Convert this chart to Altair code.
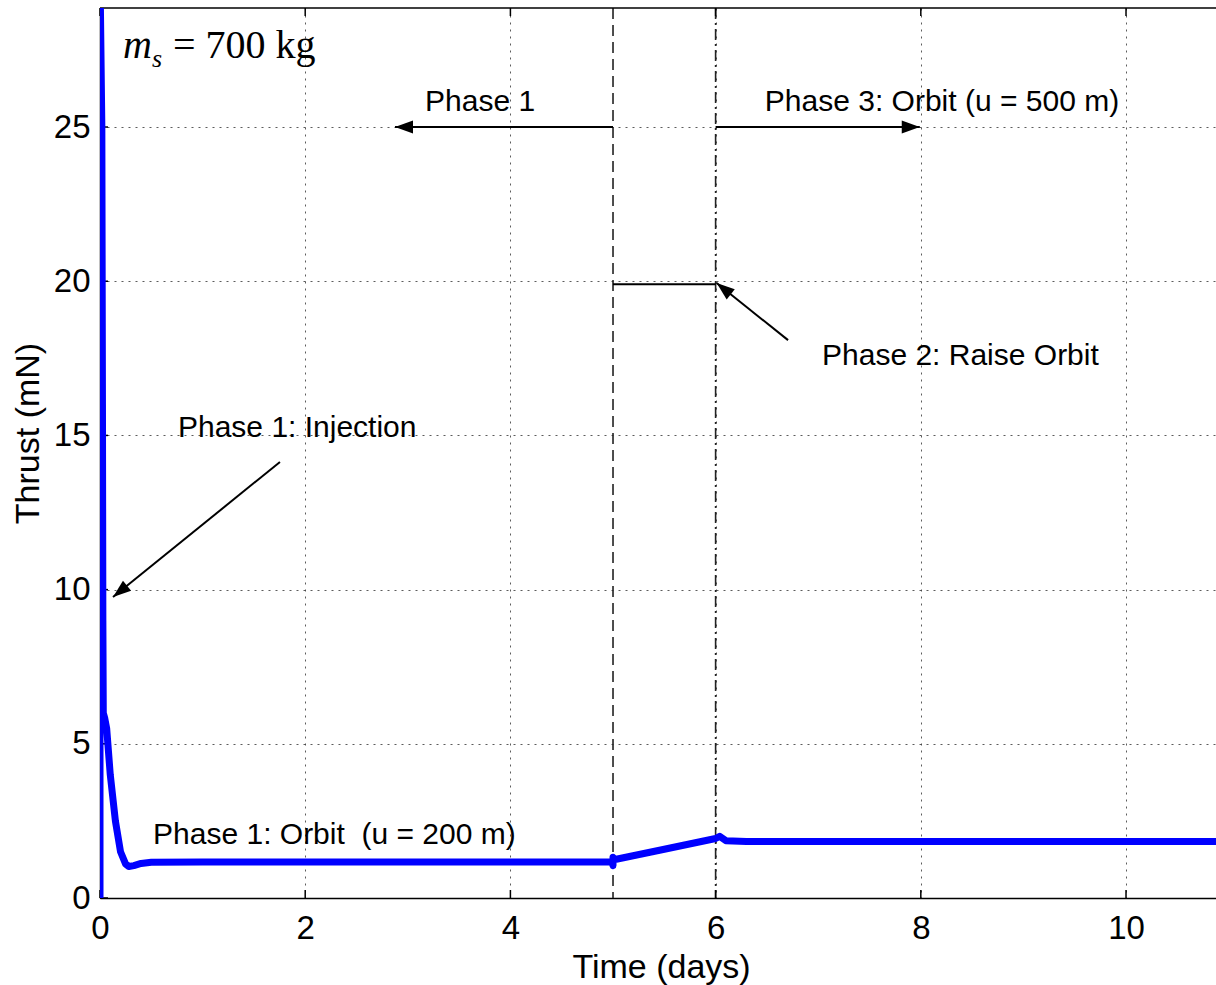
import math
import altair as alt
import pandas as pd

# ---------------- data ----------------
curve_x = [0.0, 0.0, 0.018, 0.024, 0.028, 0.032, 0.045, 0.065, 0.10, 0.15, 0.20, 0.25, 0.28,
           0.33, 0.40, 0.50, 1.0, 2.0, 3.0, 4.0, 4.99, 5.0, 5.0, 5.02, 5.5, 6.0, 6.04,
           6.10, 6.3, 7.0, 8.0, 9.0, 10.0, 10.88]
curve_y = [0.0, 30.0, 25.0, 16.0, 9.0, 6.0, 5.85, 5.5, 4.0, 2.5, 1.5, 1.1, 1.02,
           1.05, 1.12, 1.16, 1.17, 1.17, 1.17, 1.17, 1.17, 1.05, 1.32, 1.25, 1.58, 1.93, 2.0,
           1.86, 1.83, 1.83, 1.83, 1.83, 1.83, 1.83]

x_ticks = [0, 2, 4, 6, 8, 10]
y_ticks = [0, 5, 10, 15, 20, 25]
X_MAX = 10.877
Y_MAX = 28.86

phase_lines_x = [5, 6]
phase_lines_style = ["dash", "dashdot"]

# arrows: tail -> tip (data coordinates)
arrow_x1 = [5.0, 6.0, 1.754, 6.706]
arrow_y1 = [25.0, 25.0, 14.14, 18.09]
arrow_x2 = [2.875, 7.99, 0.127, 6.01]
arrow_y2 = [25.0, 25.0, 9.76, 19.94]

seg_x1 = [5.0]
seg_x2 = [6.0]
seg_y = [19.9]

ann_text = ["Phase 1", "Phase 3: Orbit (u = 500 m)", "Phase 2: Raise Orbit",
            "Phase 1: Injection", "Phase 1: Orbit\u00a0\u00a0(u = 200 m)"]
ann_x = [3.168, 6.48, 7.037, 0.760, 0.517]
ann_y = [25.52, 25.52, 17.28, 14.95, 1.75]

# ---------------- layout ----------------
W, H = 1116, 890
PX_X = W / X_MAX
PX_Y = H / Y_MAX

xs = alt.Scale(domain=[0, X_MAX], nice=False, zero=False)
ys = alt.Scale(domain=[0, Y_MAX], nice=False, zero=False)

curve_df = pd.DataFrame({"t": curve_x, "thrust": curve_y, "order": list(range(len(curve_x)))})

base_x_axis = alt.Axis(values=x_ticks, title="Time (days)", grid=True, ticks=False,
                       labelFlush=False, labelPadding=14, titleX=561, titleY=79,
                       titleBaseline="alphabetic", titleAlign="center", format="d")
base_y_axis = alt.Axis(values=y_ticks, title="Thrust (mN)", grid=True, ticks=False,
                       labelFlush=False, labelPadding=10, titleX=-55, titleY=425,
                       titleAlign="center", titleBaseline="bottom", titleAngle=270, format="d")

curve = alt.Chart(curve_df).mark_line(color="#0000FF", strokeWidth=7, clip=True,
                                      strokeJoin="round", strokeCap="round").encode(
    x=alt.X("t:Q", scale=xs, axis=base_x_axis),
    y=alt.Y("thrust:Q", scale=ys, axis=base_y_axis),
    order="order:Q",
)

vl_df = pd.DataFrame({"x": phase_lines_x, "style": phase_lines_style})
vline_dash = alt.Chart(vl_df[vl_df["style"] == "dash"]).mark_rule(
    color="#222", strokeWidth=1.6, strokeDash=[11, 6]).encode(x=alt.X("x:Q", scale=xs))
vline_dd = alt.Chart(vl_df[vl_df["style"] == "dashdot"]).mark_rule(
    color="#222", strokeWidth=1.6, strokeDash=[11, 4, 2, 4]).encode(x=alt.X("x:Q", scale=xs))

arr_df = pd.DataFrame({"x1": arrow_x1, "y1": arrow_y1, "x2": arrow_x2, "y2": arrow_y2})
# arrowhead rotation from the screen direction of each arrow
angles = []
for a, b, c, d in zip(arrow_x1, arrow_y1, arrow_x2, arrow_y2):
    dx = (c - a) * PX_X
    dy = -(d - b) * PX_Y
    th = math.degrees(math.atan2(dy, dx))
    angles.append((th - 180) % 360)
arr_df["angle"] = angles

arrow_lines = alt.Chart(arr_df).mark_rule(color="black", strokeWidth=2).encode(
    x=alt.X("x1:Q", scale=xs), y=alt.Y("y1:Q", scale=ys),
    x2="x2:Q", y2="y2:Q")
arrow_heads = alt.Chart(arr_df).mark_point(
    shape="M0,0 L1,-0.36 L1,0.36 Z", filled=True, color="black", opacity=1, size=1300,
    strokeWidth=0).encode(
    x=alt.X("x2:Q", scale=xs), y=alt.Y("y2:Q", scale=ys),
    angle=alt.Angle("angle:Q", scale=None))

seg_df = pd.DataFrame({"x1": seg_x1, "x2": seg_x2, "y": seg_y})
seg = alt.Chart(seg_df).mark_rule(color="black", strokeWidth=2).encode(
    x=alt.X("x1:Q", scale=xs), x2="x2:Q", y=alt.Y("y:Q", scale=ys))

ann_df = pd.DataFrame({"text": ann_text, "x": ann_x, "y": ann_y})
ann = alt.Chart(ann_df).mark_text(font="Liberation Sans", fontSize=30, align="left",
                                  baseline="alphabetic", color="black").encode(
    x=alt.X("x:Q", scale=xs), y=alt.Y("y:Q", scale=ys), text="text:N")

ms_df = pd.DataFrame({"text": ["m", "s", "= 700 kg"], "x": [0.224, 0.507, 0.711],
                      "y": [27.24, 26.95, 27.24], "style": ["it", "sub", "rm"]})
ms_m = alt.Chart(ms_df[ms_df["style"] == "it"]).mark_text(
    font="Liberation Serif", fontSize=40, fontStyle="italic", align="left",
    baseline="alphabetic", color="black").encode(
    x=alt.X("x:Q", scale=xs), y=alt.Y("y:Q", scale=ys), text="text:N")
ms_s = alt.Chart(ms_df[ms_df["style"] == "sub"]).mark_text(
    font="Liberation Serif", fontSize=26, fontStyle="italic", align="left",
    baseline="alphabetic", color="black").encode(
    x=alt.X("x:Q", scale=xs), y=alt.Y("y:Q", scale=ys), text="text:N")
ms_r = alt.Chart(ms_df[ms_df["style"] == "rm"]).mark_text(
    font="Liberation Serif", fontSize=40, align="left",
    baseline="alphabetic", color="black").encode(
    x=alt.X("x:Q", scale=xs), y=alt.Y("y:Q", scale=ys), text="text:N")

xt_df = pd.DataFrame({"v": x_ticks})
yt_df = pd.DataFrame({"v": y_ticks})
xt_bottom = alt.Chart(xt_df).mark_rule(color="black", strokeWidth=1.5).encode(
    x=alt.X("v:Q", scale=xs), y=alt.value(H), y2=alt.value(H - 8))
xt_top = alt.Chart(xt_df).mark_rule(color="black", strokeWidth=1.5).encode(
    x=alt.X("v:Q", scale=xs), y=alt.value(0), y2=alt.value(8))
yt_left = alt.Chart(yt_df).mark_rule(color="black", strokeWidth=1.5).encode(
    y=alt.Y("v:Q", scale=ys), x=alt.value(0), x2=alt.value(8))
top_border = alt.Chart(xt_df.head(1)).mark_rule(color="black", strokeWidth=1.5).encode(
    y=alt.value(0), x=alt.value(0), x2=alt.value(W))

chart = alt.layer(
    vline_dash, vline_dd, seg, arrow_lines, arrow_heads, ann, ms_m, ms_s, ms_r,
    xt_bottom, xt_top, yt_left, top_border, curve,
).properties(
    width=W, height=H,
    padding={"left": 100, "top": 8, "right": 0, "bottom": 87},
    autosize=alt.AutoSizeParams(type="none"),
    background="white",
).configure_view(stroke=None).configure_axis(
    domainColor="black", domainWidth=1.5,
    gridColor="#333", gridDash=[2, 5], gridWidth=1, gridOpacity=0.8,
    labelFont="Liberation Sans", labelFontSize=33, labelColor="black",
    titleFont="Liberation Sans", titleFontSize=34, titleColor="black", titleFontWeight="normal",
)

chart.save("out.html", embed_options={"renderer": "svg", "actions": False})
